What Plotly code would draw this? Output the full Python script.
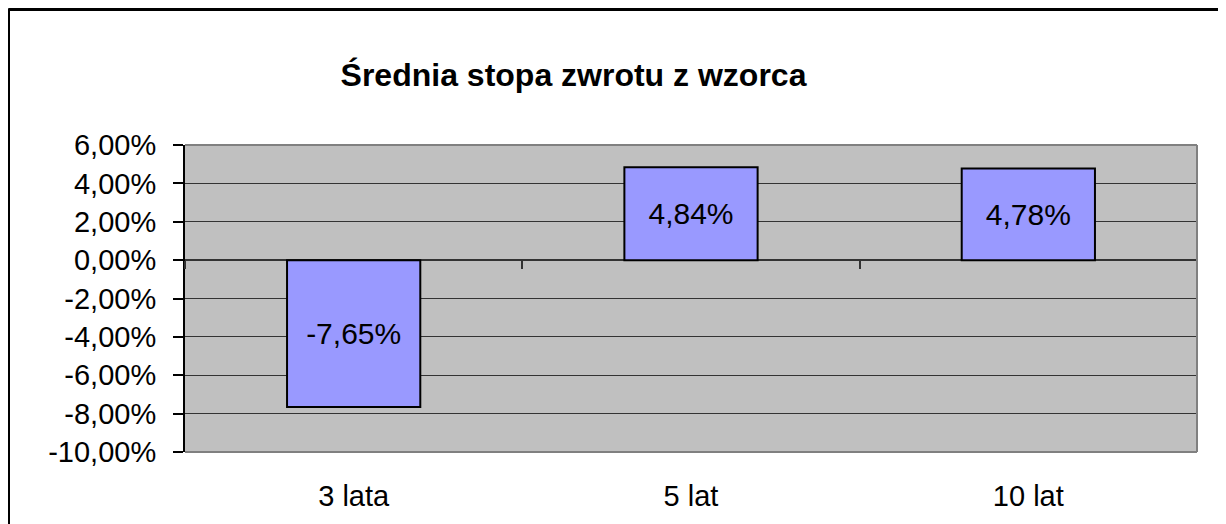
import plotly.graph_objects as go

categories = ["3 lata", "5 lat", "10 lat"]
values = [-0.0765, 0.0484, 0.0478]
title_text = "Średnia stopa zwrotu z wzorca"
tick_values = [-0.10, -0.08, -0.06, -0.04, -0.02, 0.0, 0.02, 0.04, 0.06]
tick_labels = ["-10,00%", "-8,00%", "-6,00%", "-4,00%", "-2,00%", "0,00%", "2,00%", "4,00%", "6,00%"]
bar_labels = ["-7,65%", "4,84%", "4,78%"]

FONT = "Liberation Sans, Arial, sans-serif"
OFF = 8  # default page margin of the html body
W, H = 1226 - OFF, 524 - OFF
L, T = 185 - OFF, 145 - OFF
R = W - (1197 - OFF)
B = H - (452 - OFF)
pw = W - L - R
ph = H - T - B


def px_x(p):
    return (p - OFF - L) / pw


def px_y(p):
    return (H - B - (p - OFF)) / ph


fig = go.Figure()
fig.add_trace(go.Bar(
    x=categories, y=values,
    marker=dict(color="#9999FF", line=dict(color="black", width=2)),
    width=0.395,
    text=bar_labels,
    texttemplate="%{text}",
    textposition="inside",
    insidetextanchor="middle",
    textangle=0,
    textfont=dict(family=FONT, size=30, color="black"),
    hoverinfo="skip",
    xaxis="x", yaxis="y",
))
# invisible helper trace for the category tick marks along the zero line
fig.add_trace(go.Scatter(
    x=categories, y=[0] * len(categories), mode="lines",
    line=dict(width=0), opacity=0, showlegend=False, hoverinfo="skip",
    xaxis="x2", yaxis="y",
))

zero_pos = (0 - (-0.10)) / (0.06 - (-0.10))

shapes = [
    dict(type="line", xref="paper", yref="paper", x0=px_x(8.5), x1=px_x(8.5), y0=px_y(8.5), y1=px_y(560),
         line=dict(color="black", width=3)),
    dict(type="line", xref="paper", yref="paper", x0=px_x(8.5), x1=px_x(1240), y0=px_y(9.5), y1=px_y(9.5),
         line=dict(color="black", width=3)),
    dict(type="line", xref="paper", yref="paper", x0=px_x(1224), x1=px_x(1224), y0=px_y(9.5), y1=px_y(560),
         line=dict(color="#D8D8D8", width=1)),
    dict(type="line", xref="paper", yref="paper", x0=0, x1=1, y0=1, y1=1,
         line=dict(color="#808080", width=2), layer="above"),
    dict(type="line", xref="paper", yref="paper", x0=1, x1=1, y0=0, y1=1,
         line=dict(color="#808080", width=2), layer="above"),
    dict(type="line", xref="paper", yref="paper", x0=0, x1=1, y0=0, y1=0,
         line=dict(color="#808080", width=2), layer="above"),
]

fig.update_layout(
    width=W, height=H,
    margin=dict(l=L, r=R, t=T, b=B, autoexpand=False),
    paper_bgcolor="white",
    plot_bgcolor="#C0C0C0",
    showlegend=False,
    font=dict(family=FONT, color="black"),
    title=dict(
        text=title_text, x=(573.5 - OFF) / W, xanchor="center",
        y=1 - (75 - OFF) / H, yanchor="middle", xref="container", yref="container",
        font=dict(family=FONT, size=32, color="black", weight="bold"),
        automargin=False,
    ),
    xaxis=dict(
        type="category", categoryarray=categories, range=[-0.5, 2.5],
        showgrid=False, zeroline=False, showline=False, ticks="",
        tickfont=dict(family=FONT, size=29, color="black"),
        ticklabelstandoff=24, automargin=False,
    ),
    xaxis2=dict(
        type="category", categoryarray=categories, range=[-0.5, 2.5],
        overlaying="x", anchor="free", position=zero_pos, side="bottom",
        showgrid=False, zeroline=False, showline=False,
        ticks="outside", tickson="boundaries", ticklen=8, tickwidth=2, tickcolor="#333333",
        showticklabels=False, automargin=False,
    ),
    yaxis=dict(
        range=[-0.10, 0.06], tickmode="array", tickvals=tick_values, ticktext=tick_labels,
        showgrid=True, gridcolor="#333333", gridwidth=1.3,
        zeroline=True, zerolinecolor="#333333", zerolinewidth=2,
        showline=True, linecolor="black", linewidth=2,
        ticks="outside", ticklen=10, tickwidth=1.5, tickcolor="black",
        tickfont=dict(family=FONT, size=29, color="black"),
        ticklabelstandoff=11, automargin=False,
    ),
    shapes=shapes,
)

fig.write_html("out.html")
